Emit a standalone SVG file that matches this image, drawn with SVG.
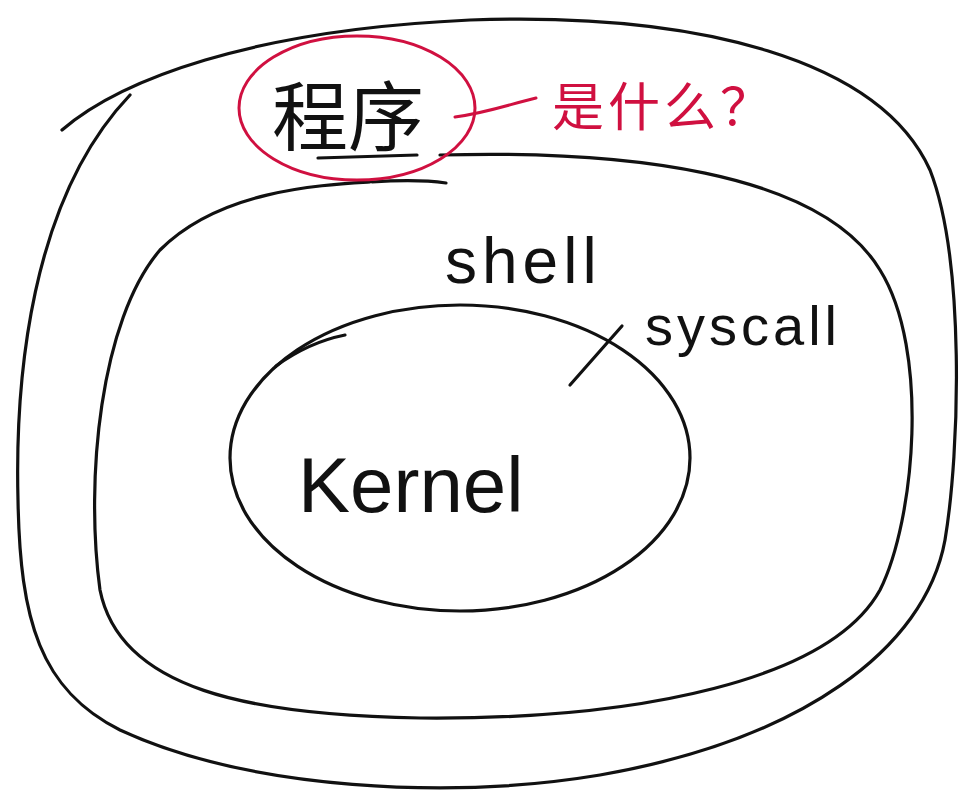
<svg xmlns="http://www.w3.org/2000/svg" width="972" height="800" viewBox="0 0 972 800">
<style>
.ink{fill:none;stroke:#111;stroke-width:3.2;stroke-linecap:round;stroke-linejoin:round}
.red{fill:none;stroke:#d01040;stroke-width:3;stroke-linecap:round}
.t{font-family:"Liberation Sans","Noto Sans CJK SC",sans-serif;fill:#111}
.tr{font-family:"Liberation Sans","Noto Sans CJK SC",sans-serif;fill:#d01040}
</style>
<rect width="972" height="800" fill="#fff"/>
<g id="connectors">
<path class="ink" d="M 570,385 L 622,326"/>
<path class="red" d="M 455,117 C 490,112 510,104 536,98"/>
</g>
<g id="outer">
<path class="ink" d="M 62,130 C 120,80 250,30 470,20 C 700,12 880,60 930,170 C 965,260 960,450 945,540 C 925,650 800,740 600,775 C 450,800 250,790 120,730 C 40,690 20,620 18,500 C 15,380 30,200 130,95"/>
<text class="t" x="272" y="145" font-size="76">程序</text>
<path class="ink" d="M 318,158 L 417,155"/>
</g>
<g id="shell">
<path class="ink" d="M 440,155 C 620,150 820,170 880,270 C 930,350 915,520 880,590 C 830,680 640,720 420,718 C 250,715 120,690 100,590 C 85,480 100,320 160,250 C 220,190 320,185 370,182"/>
<path class="ink" d="M 372,182 C 400,180 425,180 446,183"/>
<text class="t" x="445" y="283" font-size="64" letter-spacing="5">shell</text>
</g>
<g id="kernel">
<ellipse class="ink" cx="460" cy="458" rx="230" ry="153"/>
<path class="ink" d="M 276,366 C 298,350 320,340 345,335"/>
<text class="t" x="298" y="512" font-size="78">Kernel</text>
</g>
<g id="syscall">
<text class="t" x="645" y="345" font-size="56" letter-spacing="4">syscall</text>
</g>
<g id="program-circle">
<ellipse class="red" cx="357" cy="108" rx="118" ry="72"/>
<text class="tr" x="552" y="126" font-size="52" letter-spacing="4">是什么？</text>
</g>
</svg>
